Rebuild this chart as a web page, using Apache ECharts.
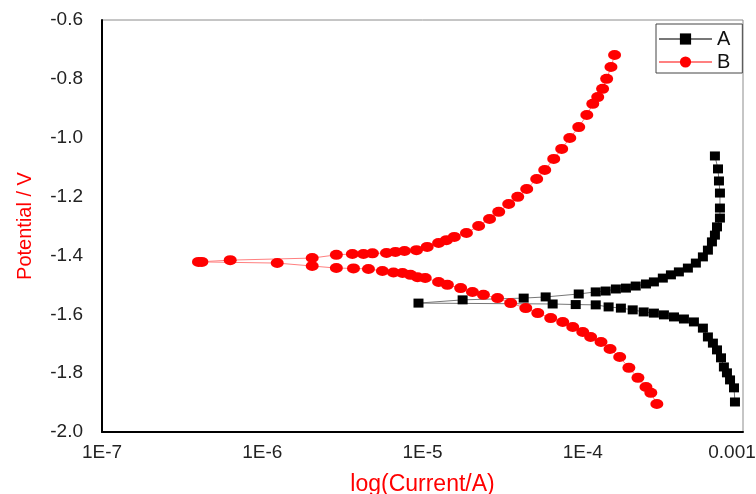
<!DOCTYPE html>
<html>
<head>
<meta charset="utf-8">
<script src="https://cdn.jsdelivr.net/npm/echarts@6/dist/echarts.min.js"></script>
<style>html,body{margin:0;padding:0;background:#fff}#c{width:756px;height:494px}</style>
</head>
<body>
<div id="c"></div>
<script>
var seriesNames = ['A', 'B'];
var xTickLabels = ['1E-7', '1E-6', '1E-5', '1E-4', '0.001'];
var yTicks = [-2.0, -1.8, -1.6, -1.4, -1.2, -1.0, -0.8, -0.6];

var aCurrent = [8.91e-4, 8.79e-4, 8.30e-4, 7.94e-4, 7.60e-4, 7.29e-4, 6.88e-4, 6.49e-4, 6.04e-4, 5.62e-4,
  4.94e-4, 4.28e-4, 3.71e-4, 3.21e-4, 2.78e-4, 2.40e-4, 2.05e-4, 1.73e-4, 1.45e-4, 1.205e-4,
  9.04e-5, 6.49e-5, 9.44e-6, 1.78e-5, 4.28e-5, 5.87e-5, 9.44e-5, 1.205e-4, 1.39e-4, 1.61e-4,
  1.86e-4, 2.14e-4, 2.48e-4, 2.78e-4, 3.16e-4, 3.55e-4, 3.98e-4, 4.53e-4, 5.08e-4, 5.62e-4,
  6.04e-4, 6.40e-4, 6.68e-4, 6.88e-4, 7.18e-4, 7.18e-4, 7.18e-4, 7.08e-4, 6.98e-4, 6.68e-4];
var aPotential = [-1.898, -1.850, -1.823, -1.799, -1.779, -1.748, -1.721, -1.698, -1.677, -1.647,
  -1.626, -1.616, -1.609, -1.602, -1.596, -1.592, -1.585, -1.579, -1.575, -1.568,
  -1.567, -1.565, -1.562, -1.551, -1.545, -1.541, -1.531, -1.524, -1.521, -1.514,
  -1.511, -1.504, -1.497, -1.490, -1.477, -1.466, -1.456, -1.443, -1.426, -1.405,
  -1.382, -1.354, -1.331, -1.303, -1.273, -1.239, -1.188, -1.147, -1.106, -1.062];

var bCurrent = [2.90e-4, 2.66e-4, 2.48e-4, 2.21e-4, 1.94e-4, 1.70e-4, 1.48e-4, 1.30e-4, 1.12e-4, 1.00e-4,
  8.66e-5, 7.50e-5, 6.31e-5, 5.24e-5, 4.41e-5, 3.55e-5, 2.94e-5, 2.40e-5, 2.05e-5, 1.73e-5,
  1.43e-5, 1.26e-5, 1.04e-5, 9.31e-6, 8.41e-6, 7.50e-6, 6.59e-6, 5.62e-6, 4.60e-6, 3.71e-6,
  2.90e-6, 2.05e-6, 1.24e-6, 4.2e-7, 4.0e-7, 6.31e-7, 2.05e-6, 2.90e-6, 3.65e-6, 4.28e-6,
  4.87e-6, 5.96e-6, 6.78e-6, 7.72e-6, 9.17e-6, 1.07e-5, 1.26e-5, 1.41e-5, 1.58e-5, 1.88e-5,
  2.24e-5, 2.62e-5, 2.99e-5, 3.45e-5, 3.93e-5, 4.47e-5, 5.16e-5, 5.79e-5, 6.59e-5, 7.39e-5,
  8.30e-5, 9.44e-5, 1.06e-4, 1.155e-4, 1.24e-4, 1.33e-4, 1.41e-4, 1.50e-4, 1.58e-4];
var bPotential = [-1.905, -1.867, -1.847, -1.816, -1.782, -1.745, -1.718, -1.694, -1.677, -1.660,
  -1.643, -1.626, -1.613, -1.596, -1.579, -1.562, -1.545, -1.534, -1.524, -1.511,
  -1.500, -1.490, -1.477, -1.474, -1.466, -1.460, -1.458, -1.453, -1.446, -1.444,
  -1.443, -1.436, -1.426, -1.422, -1.422, -1.416, -1.409, -1.398, -1.395, -1.395,
  -1.393, -1.392, -1.388, -1.385, -1.382, -1.371, -1.358, -1.348, -1.337, -1.324,
  -1.300, -1.276, -1.252, -1.225, -1.201, -1.174, -1.140, -1.110, -1.072, -1.038,
  -1.001, -0.964, -0.923, -0.885, -0.862, -0.834, -0.800, -0.760, -0.719];

function pairs(xs, ys) { return xs.map(function (x, i) { return [x, ys[i]]; }); }

var font = 'Liberation Sans, Arial, sans-serif';
var xLabelMap = {};
[-7, -6, -5, -4, -3].forEach(function (p, i) { xLabelMap[p] = xTickLabels[i]; });

var chart = echarts.init(document.getElementById('c'), null, { renderer: 'canvas' });
chart.setOption({
  animation: false,
  backgroundColor: '#fff',
  grid: { left: 102, right: 13, top: 20, bottom: 62, show: true, borderColor: '#8c8c8c', borderWidth: 1,
    containLabel: false, outerBoundsMode: 'none' },
  legend: {
    data: seriesNames, orient: 'vertical', left: 656, top: 24,
    padding: [5, 12, 1, 2], itemGap: 3, itemWidth: 53, itemHeight: 14,
    borderColor: '#444', borderWidth: 1, backgroundColor: '#fff',
    textStyle: { fontFamily: font, fontSize: 20, color: '#111' }
  },
  xAxis: {
    type: 'log', logBase: 10, min: 1e-7, max: 1e-3,
    name: 'log(Current/A)', nameLocation: 'middle', nameGap: 41,
    nameTextStyle: { color: '#ff0000', fontFamily: font, fontSize: 23 },
    axisLine: { show: true, lineStyle: { color: '#000', width: 2 } },
    axisTick: { show: false }, splitLine: { show: false }, minorTick: { show: false },
    axisLabel: {
      margin: 11, fontFamily: font, fontSize: 19, color: '#222',
      formatter: function (v) {
        var p = Math.round(Math.log10(v));
        if (p === -3) { return '{last|' + xLabelMap[p] + '}'; }
        return xLabelMap[p] || '';
      },
      rich: { last: { fontFamily: font, fontSize: 19, color: '#222', padding: [0, 22, 0, 0] } }
    }
  },
  yAxis: {
    type: 'value', min: yTicks[0], max: yTicks[yTicks.length - 1], interval: 0.2,
    name: 'Potential / V', nameLocation: 'middle', nameGap: 67,
    nameTextStyle: { color: '#ff0000', fontFamily: font, fontSize: 20 },
    axisLine: { show: true, lineStyle: { color: '#000', width: 2 } },
    axisTick: { show: false }, splitLine: { show: false },
    axisLabel: {
      margin: 19, fontFamily: font, fontSize: 19, color: '#222',
      formatter: function (v) { return v.toFixed(1); }
    }
  },
  series: [
    {
      name: seriesNames[0], type: 'line', data: pairs(aCurrent, aPotential),
      symbol: 'rect', symbolSize: [10, 9], showAllSymbol: true,
      itemStyle: { color: '#000' },
      lineStyle: { color: '#777', width: 1 }, z: 2
    },
    {
      name: seriesNames[1], type: 'line', data: pairs(bCurrent, bPotential),
      symbol: 'circle', symbolSize: [13, 10], showAllSymbol: true,
      itemStyle: { color: '#ff0000' },
      lineStyle: { color: '#ff8080', width: 1 }, z: 3
    }
  ]
});
</script>
</body>
</html>
